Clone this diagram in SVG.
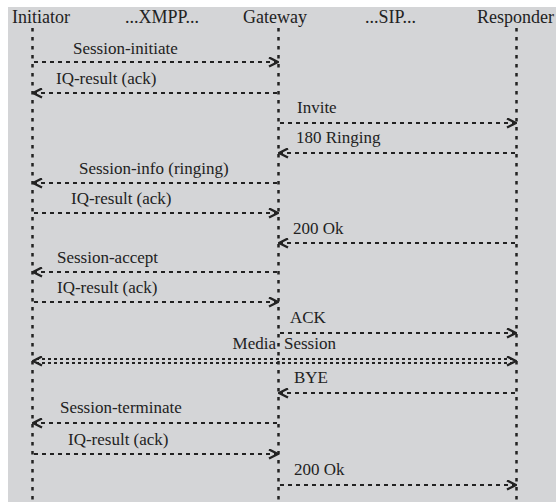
<svg xmlns="http://www.w3.org/2000/svg" width="556" height="502" viewBox="0 0 556 502">
<defs>
<marker id="ah" viewBox="0 0 11 11" refX="10" refY="5.5" markerWidth="11" markerHeight="11" markerUnits="userSpaceOnUse" orient="auto-start-reverse">
<path d="M1,1 L10,5.5 L1,10" fill="none" stroke="#222" stroke-width="2.4"/>
</marker>
</defs>
<style>
text{font-family:"Liberation Serif","Times New Roman",serif;fill:#222;}
.t{font-size:18px;}
.l{font-size:17px;}
.life{stroke:#222;stroke-width:2.5;stroke-dasharray:3.5 5.5;fill:none;}
.msg{stroke:#222;stroke-width:2;stroke-dasharray:4 4;fill:none;marker-end:url(#ah);}
.dbl{stroke:#222;stroke-width:2;stroke-dasharray:3 3;fill:none;}
</style>
<rect x="8" y="7" width="548" height="495" fill="#d4d5d7"/>
<g id="initiator"><text class="t" x="12" y="23">Initiator</text><line class="life" x1="32.5" y1="28" x2="32.5" y2="502"/></g>
<g id="xmpp"><text class="t" x="125" y="23">...XMPP...</text></g>
<g id="gateway"><text class="t" x="243" y="23">Gateway</text><line class="life" x1="278.5" y1="28" x2="278.5" y2="502"/></g>
<g id="sip"><text class="t" x="365" y="23">...SIP...</text></g>
<g id="responder"><text class="t" x="477" y="23">Responder</text><line class="life" x1="516.5" y1="28" x2="516.5" y2="502"/></g>
<g id="connectors">
<line class="msg" x1="34" y1="62" x2="278" y2="62"/><text class="l" x="73" y="54">Session-initiate</text>
<line class="msg" x1="277" y1="93" x2="33" y2="93"/><text class="l" x="56" y="84">IQ-result (ack)</text>
<line class="msg" x1="280" y1="123" x2="516" y2="123"/><text class="l" x="297" y="113">Invite</text>
<line class="msg" x1="515" y1="153" x2="279" y2="153"/><text class="l" x="296" y="143">180 Ringing</text>
<line class="msg" x1="277" y1="183" x2="33" y2="183"/><text class="l" x="79" y="174">Session-info (ringing)</text>
<line class="msg" x1="34" y1="213" x2="278" y2="213"/><text class="l" x="71" y="204">IQ-result (ack)</text>
<line class="msg" x1="515" y1="243" x2="279" y2="243"/><text class="l" x="293" y="234">200 Ok</text>
<line class="msg" x1="277" y1="272" x2="33" y2="272"/><text class="l" x="57" y="263">Session-accept</text>
<line class="msg" x1="34" y1="302" x2="278" y2="302"/><text class="l" x="57" y="293">IQ-result (ack)</text>
<line class="msg" x1="280" y1="333" x2="516" y2="333"/><text class="l" x="290" y="323">ACK</text>
<line class="dbl" x1="36" y1="359" x2="513" y2="359"/>
<line class="dbl" x1="36" y1="363" x2="513" y2="363"/>
<path d="M33,361 L516,361" fill="none" stroke="none" marker-start="url(#ah)" marker-end="url(#ah)"/>
<text class="l" x="276" y="349" text-anchor="end">Media</text><text class="l" x="284" y="349">Session</text>
<line class="msg" x1="515" y1="393" x2="279" y2="393"/><text class="l" x="294" y="383">BYE</text>
<line class="msg" x1="277" y1="423" x2="33" y2="423"/><text class="l" x="60" y="413">Session-terminate</text>
<line class="msg" x1="34" y1="454" x2="278" y2="454"/><text class="l" x="68" y="445">IQ-result (ack)</text>
<line class="msg" x1="280" y1="485" x2="516" y2="485"/><text class="l" x="294" y="475">200 Ok</text>
</g>
</svg>
